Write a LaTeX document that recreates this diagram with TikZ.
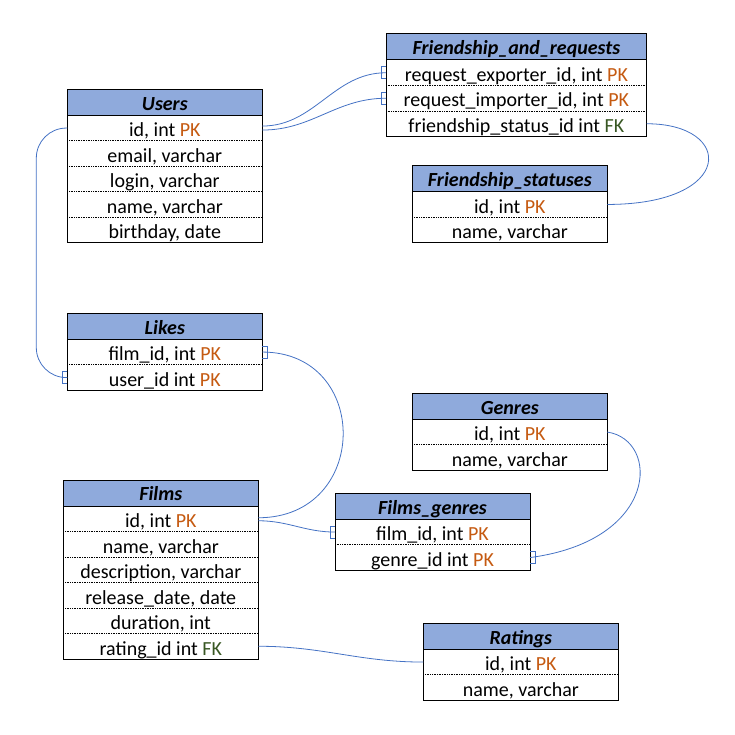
\documentclass[tikz,border=0pt]{standalone}
\usepackage{fontspec}
\setmainfont{Carlito}
\usepackage{xcolor}
\usepackage{tikz}
\usetikzlibrary{positioning}

\definecolor{headblue}{RGB}{143,170,220}
\definecolor{pkorange}{RGB}{197,90,17}
\definecolor{fkgreen}{RGB}{56,87,35}
\definecolor{linkblue}{RGB}{68,114,196}

\newcommand{\pkey}{\textcolor{pkorange}{PK}}
\newcommand{\fkey}{\textcolor{fkgreen}{FK}}

\tikzset{
  head/.style={draw, line width=1pt, fill=headblue, anchor=north west, outer sep=0pt,
    minimum width=195pt, minimum height=26pt, inner sep=0pt,
    text height=20.5pt, text depth=4.9pt, font=\fontsize{20}{24}\selectfont\bfseries\itshape},
  field/.style={minimum width=195pt, minimum height=25.5pt, inner sep=0pt, outer sep=0pt,
    text height=21pt, text depth=3.5pt},
  sep/.style={densely dotted, line width=0.7pt},
  frame/.style={line width=1pt},
  link/.style={draw=linkblue, line width=0.8pt},
  manyend/.pic={\draw[link] (0,-6) -- (-5,-6) -- (-5,6) -- (0,6);}
}

\begin{document}
\begin{tikzpicture}[x=1pt,y=-1pt,font=\fontsize{20}{24}\selectfont]
\useasboundingbox (0,0) rectangle (735,735);

\node[head] (users) at (67.3,89.3) {Users};
\node[field, below=0pt of users] (users-id) {id, int \pkey};
\node[field, below=0pt of users-id] (users-email) {email, varchar};
\node[field, below=0pt of users-email] (users-login) {login, varchar};
\node[field, below=0pt of users-login] (users-name) {name, varchar};
\node[field, below=0pt of users-name] (users-bday) {birthday, date};
\draw[sep] (users-id.south west) -- (users-id.south east);
\draw[sep] (users-email.south west) -- (users-email.south east);
\draw[sep] (users-login.south west) -- (users-login.south east);
\draw[sep] (users-name.south west) -- (users-name.south east);
\draw[frame] (users.north west) rectangle (users-bday.south east);

\node[head, minimum width=260.7pt] (friends) at (386,34) {Friendship\_and\_requests};
\node[field, minimum width=260.7pt, below=0pt of friends] (fr-exp) {request\_exporter\_id, int \pkey};
\node[field, minimum width=260.7pt, below=0pt of fr-exp] (fr-imp) {request\_importer\_id, int \pkey};
\node[field, minimum width=260.7pt, below=0pt of fr-imp] (fr-status) {friendship\_status\_id int \fkey};
\draw[sep] (fr-exp.south west) -- (fr-exp.south east);
\draw[sep] (fr-imp.south west) -- (fr-imp.south east);
\draw[frame] (friends.north west) rectangle (fr-status.south east);

\node[head] (statuses) at (412.3,165.7) {Friendship\_statuses};
\node[field, below=0pt of statuses] (st-id) {id, int \pkey};
\node[field, below=0pt of st-id] (st-name) {name, varchar};
\draw[sep] (st-id.south west) -- (st-id.south east);
\draw[frame] (statuses.north west) rectangle (st-name.south east);

\node[head] (likes) at (67.3,313.3) {Likes};
\node[field, below=0pt of likes] (likes-film) {film\_id, int \pkey};
\node[field, below=0pt of likes-film] (likes-user) {user\_id int \pkey};
\draw[sep] (likes-film.south west) -- (likes-film.south east);
\draw[frame] (likes.north west) rectangle (likes-user.south east);

\node[head] (genres) at (412.3,393.3) {Genres};
\node[field, below=0pt of genres] (genres-id) {id, int \pkey};
\node[field, below=0pt of genres-id] (genres-name) {name, varchar};
\draw[sep] (genres-id.south west) -- (genres-id.south east);
\draw[frame] (genres.north west) rectangle (genres-name.south east);

\node[head] (films) at (63.3,480) {Films};
\node[field, below=0pt of films] (films-id) {id, int \pkey};
\node[field, below=0pt of films-id] (films-name) {name, varchar};
\node[field, below=0pt of films-name] (films-desc) {description, varchar};
\node[field, below=0pt of films-desc] (films-date) {release\_date, date};
\node[field, below=0pt of films-date] (films-dur) {duration, int};
\node[field, below=0pt of films-dur] (films-rating) {rating\_id int \fkey};
\draw[sep] (films-id.south west) -- (films-id.south east);
\draw[sep] (films-name.south west) -- (films-name.south east);
\draw[sep] (films-desc.south west) -- (films-desc.south east);
\draw[sep] (films-date.south west) -- (films-date.south east);
\draw[sep] (films-dur.south west) -- (films-dur.south east);
\draw[frame] (films.north west) rectangle (films-rating.south east);

\node[head] (filmgenres) at (335,493.3) {Films\_genres};
\node[field, below=0pt of filmgenres] (fg-film) {film\_id, int \pkey};
\node[field, below=0pt of fg-film] (fg-genre) {genre\_id int \pkey};
\draw[sep] (fg-film.south west) -- (fg-film.south east);
\draw[frame] (filmgenres.north west) rectangle (fg-genre.south east);

\node[head] (ratings) at (423.3,623.3) {Ratings};
\node[field, below=0pt of ratings] (ratings-id) {id, int \pkey};
\node[field, below=0pt of ratings-id] (ratings-name) {name, varchar};
\draw[sep] (ratings-id.south west) -- (ratings-id.south east);
\draw[frame] (ratings.north west) rectangle (ratings-name.south east);

\draw[link] ([yshift=2pt]users-id.east) to[out=0,in=180] (fr-exp.west);
\pic at (fr-exp.west) {manyend};
\draw[link] ([yshift=-2pt]users-id.east) to[out=0,in=180] (fr-imp.west);
\pic at (fr-imp.west) {manyend};
\draw[link] (fr-status.east) .. controls +(88,0) and +(128,0) .. (st-id.east);

\draw[link, rounded corners=30pt] (users-id.west) -- ++(-31,0) |- (likes-user.west);
\pic at (likes-user.west) {manyend};

\draw[link] (likes-film.east) .. controls +(109,0) and +(112,0) .. ([yshift=1pt]films-id.east);
\pic[rotate=180] at (likes-film.east) {manyend};
\draw[link] ([yshift=-2pt]films-id.east) to[out=0,in=180] (fg-film.west);
\pic at (fg-film.west) {manyend};
\draw[link] (genres-id.east) .. controls +(53,8) and +(129,-17) .. (fg-genre.east);
\pic[rotate=180] at (fg-genre.east) {manyend};
\draw[link] (films-rating.east) to[out=0,in=180] (ratings-id.west);
\end{tikzpicture}
\end{document}
